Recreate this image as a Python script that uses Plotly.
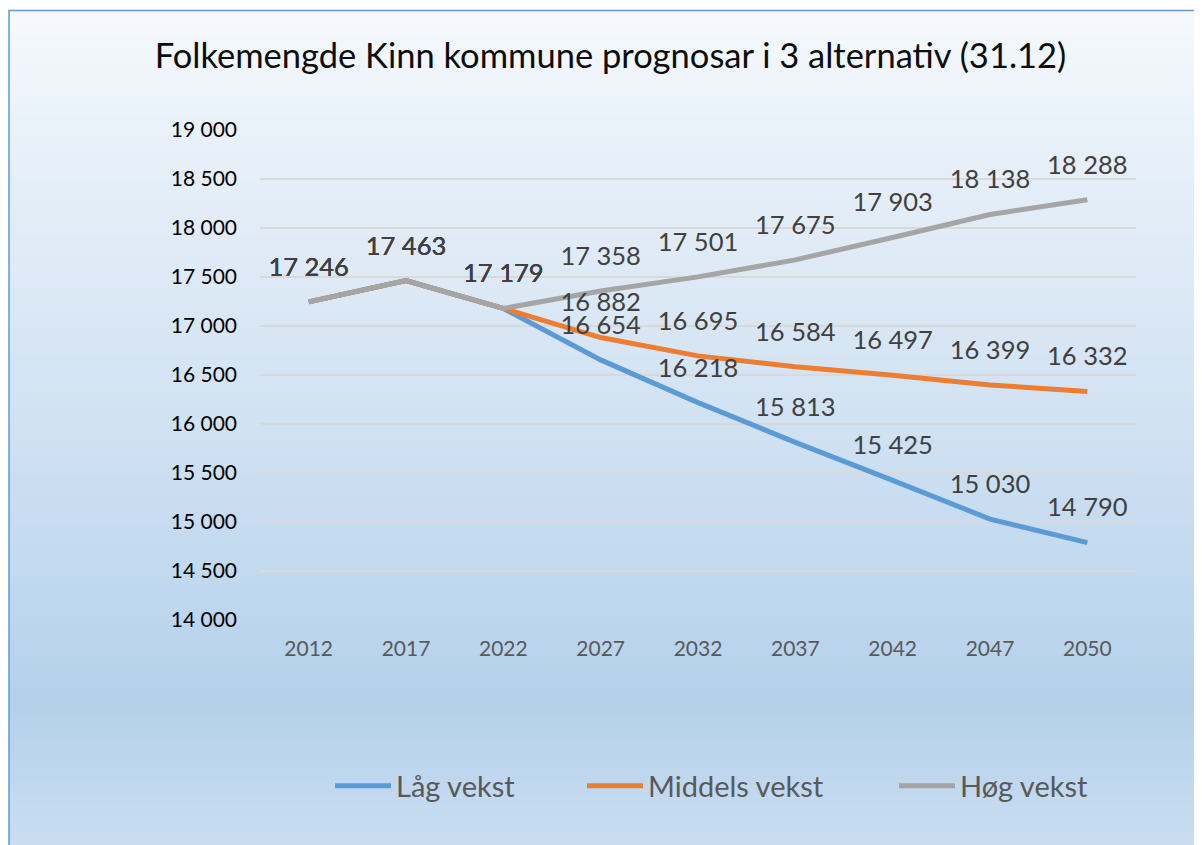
import plotly.graph_objects as go

# ---- data ----
years = ["2012", "2017", "2022", "2027", "2032", "2037", "2042", "2047", "2050"]
lag_vekst = [17246, 17463, 17179, 16654, 16218, 15813, 15425, 15030, 14790]
middels_vekst = [17246, 17463, 17179, 16882, 16695, 16584, 16497, 16399, 16332]
hog_vekst = [17246, 17463, 17179, 17358, 17501, 17675, 17903, 18138, 18288]
series_names = ["Låg vekst", "Middels vekst", "Høg vekst"]
y_ticks = [14000, 14500, 15000, 15500, 16000, 16500, 17000, 17500, 18000, 18500, 19000]

# ---- layout geometry (page pixels; the page body adds an 8px offset) ----
PAGE_W, PAGE_H = 1202, 845
OFF = 8
FW, FH = PAGE_W - OFF, PAGE_H - OFF
L, R, T, B = 260, 1136, 130, 620
PW, PH = R - L, B - T

def px_x(px):
    return (px - L) / PW

def px_y(py):
    return (B - py) / PH

FONT = "Lato"
colors = ["#5B9BD5", "#ED7D31", "#A5A5A5"]
series = [lag_vekst, middels_vekst, hog_vekst]

fig = go.Figure()

legends = ["legend", "legend2", "legend3"]
for name, vals, col, lg in zip(series_names, series, colors, legends):
    fig.add_trace(go.Scatter(
        x=years, y=vals, mode="lines", name=name,
        line=dict(color=col, width=5, shape="linear"),
        legend=lg, cliponaxis=False,
    ))

for vals in series:
    fig.add_trace(go.Scatter(
        x=years, y=vals, mode="markers+text",
        marker=dict(size=30, color="rgba(0,0,0,0)"),
        texttemplate="%{y:,.0f}", textposition="top center",
        textfont=dict(family=FONT, size=25.5, color="#404040"),
        showlegend=False, hoverinfo="skip", cliponaxis=False,
    ))

# ---- gradient background via stripes ----
stops = [(0, (247, 250, 253)), (130, (233, 241, 249)), (400, (211, 227, 243)),
         (620, (189, 214, 238)), (700, (180, 208, 234)), (845, (201, 221, 241))]

def col_at(py):
    for (y0, c0), (y1, c1) in zip(stops[:-1], stops[1:]):
        if y0 <= py <= y1:
            t = (py - y0) / (y1 - y0)
            return tuple(round(a + (b - a) * t) for a, b in zip(c0, c1))
    return stops[-1][1]

shapes = []
step = 5
y = 10
while y < PAGE_H:
    c = col_at(y + step / 2)
    shapes.append(dict(type="rect", xref="paper", yref="paper", layer="below",
                       x0=px_x(9), x1=px_x(PAGE_W + 5), y0=px_y(y),
                       y1=px_y(min(y + step + 1, PAGE_H + 5)),
                       line=dict(width=0), fillcolor="rgb(%d,%d,%d)" % c))
    y += step
shapes.append(dict(type="rect", xref="paper", yref="paper", layer="below",
                   x0=px_x(9), x1=px_x(PAGE_W + 10), y0=px_y(10.5), y1=px_y(PAGE_H + 10),
                   line=dict(width=1.5, color="#5B9BD5"), fillcolor="rgba(0,0,0,0)"))

legend_common = dict(orientation="h", yanchor="middle", xanchor="left",
                     y=px_y(786), bgcolor="rgba(0,0,0,0)", itemwidth=56,
                     font=dict(family=FONT, size=29, color="#595959"))

fig.update_layout(
    width=FW, height=FH,
    margin=dict(l=L - OFF, r=FW - (R - OFF), t=T - OFF, b=FH - (B - OFF), pad=0),
    paper_bgcolor="white", plot_bgcolor="rgba(0,0,0,0)",
    separators=", ",
    title=dict(text="Folkemengde Kinn kommune prognosar i 3 alternativ (31.12)",
               x=(610.5 - OFF) / FW, xanchor="center", y=1 - (56 - OFF) / FH, yanchor="middle",
               font=dict(family=FONT, size=34.5, color="#0D0D0D")),
    xaxis=dict(type="category", range=[-0.5, 8.5], showgrid=False, zeroline=False,
               showline=False, ticks="", ticklabelstandoff=14,
               tickfont=dict(family=FONT, size=21, color="#595959")),
    yaxis=dict(range=[14000, 19000], tickvals=y_ticks, tickformat=",.0f",
               showgrid=True, gridcolor="#D9D9D9", gridwidth=1.5, zeroline=False,
               showline=False, ticks="", ticklabelstandoff=22,
               tickfont=dict(family=FONT, size=21, color="#000000")),
    shapes=shapes,
    legend=dict(x=px_x(396 - 66), **legend_common),
    legend2=dict(x=px_x(648 - 66), **legend_common),
    legend3=dict(x=px_x(960 - 66), **legend_common),
    hovermode=False,
)

fig.write_html("out.html")
